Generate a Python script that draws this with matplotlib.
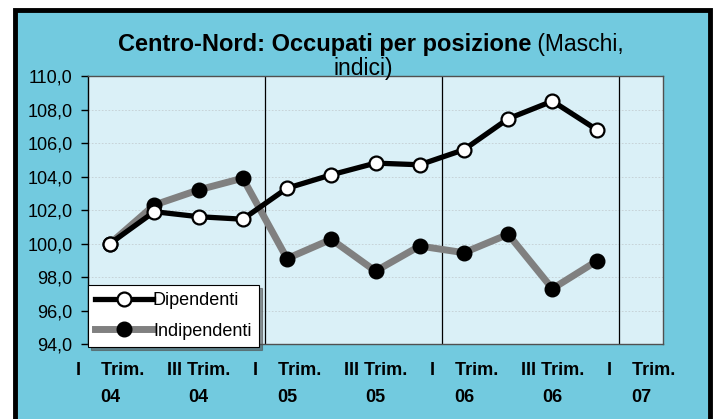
import matplotlib
matplotlib.use("Agg")
import matplotlib.pyplot as plt
from matplotlib.patches import Rectangle
import numpy as np

plt.rcParams['font.family'] = ['Liberation Sans', 'DejaVu Sans']

categories = ["I Trim. 04", "II Trim. 04", "III Trim. 04", "IV Trim. 04",
              "I Trim. 05", "II Trim. 05", "III Trim. 05", "IV Trim. 05",
              "I Trim. 06", "II Trim. 06", "III Trim. 06", "IV Trim. 06",
              "I Trim. 07"]
dipendenti = [100.0, 101.9, 101.6, 101.45, 103.3, 104.1, 104.8, 104.7,
              105.6, 107.45, 108.5, 106.8]
indipendenti = [100.0, 102.3, 103.2, 103.9, 99.1, 100.25, 98.35, 99.85,
                99.45, 100.55, 97.3, 98.95]
tick_labels = ["I    Trim.\n04", "III Trim.\n04", "I    Trim.\n05", "III Trim.\n05",
               "I    Trim.\n06", "III Trim.\n06", "I    Trim.\n07"]
yticks = [94, 96, 98, 100, 102, 104, 106, 108, 110]

W, H = 716, 419
fig = plt.figure(figsize=(W / 100, H / 100), dpi=100)
fig.patch.set_facecolor('white')

outer = '#72CADF'
inner = '#DAF0F7'

# outer frame
frame = Rectangle((15 / W, -0.05), (710 - 15) / W, (H - 10) / H + 0.05,
                  transform=fig.transFigure, facecolor=outer,
                  edgecolor='black', linewidth=3.5, zorder=-10)
fig.patches.append(frame)

ax = fig.add_axes([88 / W, 1 - 344 / H, (663 - 88) / W, (344 - 76) / H])
ax.set_zorder(1)
ax.set_facecolor(inner)

x = np.arange(len(dipendenti))
ax.plot(x, indipendenti, color='#808080', linewidth=5, marker='o',
        markersize=10.5, markerfacecolor='black', markeredgecolor='black',
        label='Indipendenti', zorder=3)
ax.plot(x, dipendenti, color='black', linewidth=3.8, marker='o',
        markersize=10, markerfacecolor='white', markeredgecolor='black',
        markeredgewidth=1.6, label='Dipendenti', zorder=4)

ax.set_xlim(-0.5, len(categories) - 0.5)
ax.set_ylim(94, 110)
ax.set_yticks(yticks)
ax.set_yticklabels([f"{v:.1f}".replace('.', ',') for v in yticks], fontsize=13)
ax.set_xticks(range(0, len(categories), 2))
ax.set_xticklabels(tick_labels, fontsize=13, fontweight='bold', linespacing=1.75)
ax.tick_params(axis='x', length=0, pad=13)
ax.tick_params(axis='y', length=5, width=1, direction='out', pad=6)

for yv in yticks[1:-1]:
    ax.axhline(yv, color='#c4ced2', linewidth=0.6, linestyle=(0, (2, 2)), zorder=1)
for xv in [3.5, 7.5, 11.5]:
    ax.axvline(xv, color='black', linewidth=0.9, zorder=2)

for s in ['top', 'right', 'bottom']:
    ax.spines[s].set_color('#505050')
    ax.spines[s].set_linewidth(1.0)
ax.spines['left'].set_color('black')
ax.spines['left'].set_linewidth(1.0)

handles, labels = ax.get_legend_handles_labels()
leg = ax.legend(handles[::-1], labels[::-1], loc='lower left',
                bbox_to_anchor=(88 / W, 1 - 347 / H), bbox_transform=fig.transFigure,
                fontsize=13, handlelength=3.2, handletextpad=0.0, labelspacing=0.75,
                borderpad=0.4, borderaxespad=0, frameon=True, fancybox=False,
                shadow={'color': '#505050', 'alpha': 0.6, 'ox': 2, 'oy': -2}, framealpha=1)
leg.get_frame().set_edgecolor('black')
leg.get_frame().set_linewidth(0.8)
leg.set_zorder(10)

# title, two parts on line 1, centered as a whole
ty1 = 1 - 44 / H
t1 = fig.text(0, ty1, "Centro-Nord: Occupati per posizione", ha='left',
              va='center', fontsize=17, fontweight='bold')
t2 = fig.text(0, ty1, " (Maschi,", ha='left', va='center', fontsize=16.5)
fig.canvas.draw()
r = fig.canvas.get_renderer()
w1 = t1.get_window_extent(r).width
w2 = t2.get_window_extent(r).width
cx = 371
start = cx - (w1 + w2) / 2
t1.set_x(start / W)
t2.set_x((start + w1) / W)
fig.text(363 / W, 1 - 68 / H, "indici)", ha='center', va='center', fontsize=16.5)

fig.savefig('out.png', dpi=100, facecolor=fig.get_facecolor())
